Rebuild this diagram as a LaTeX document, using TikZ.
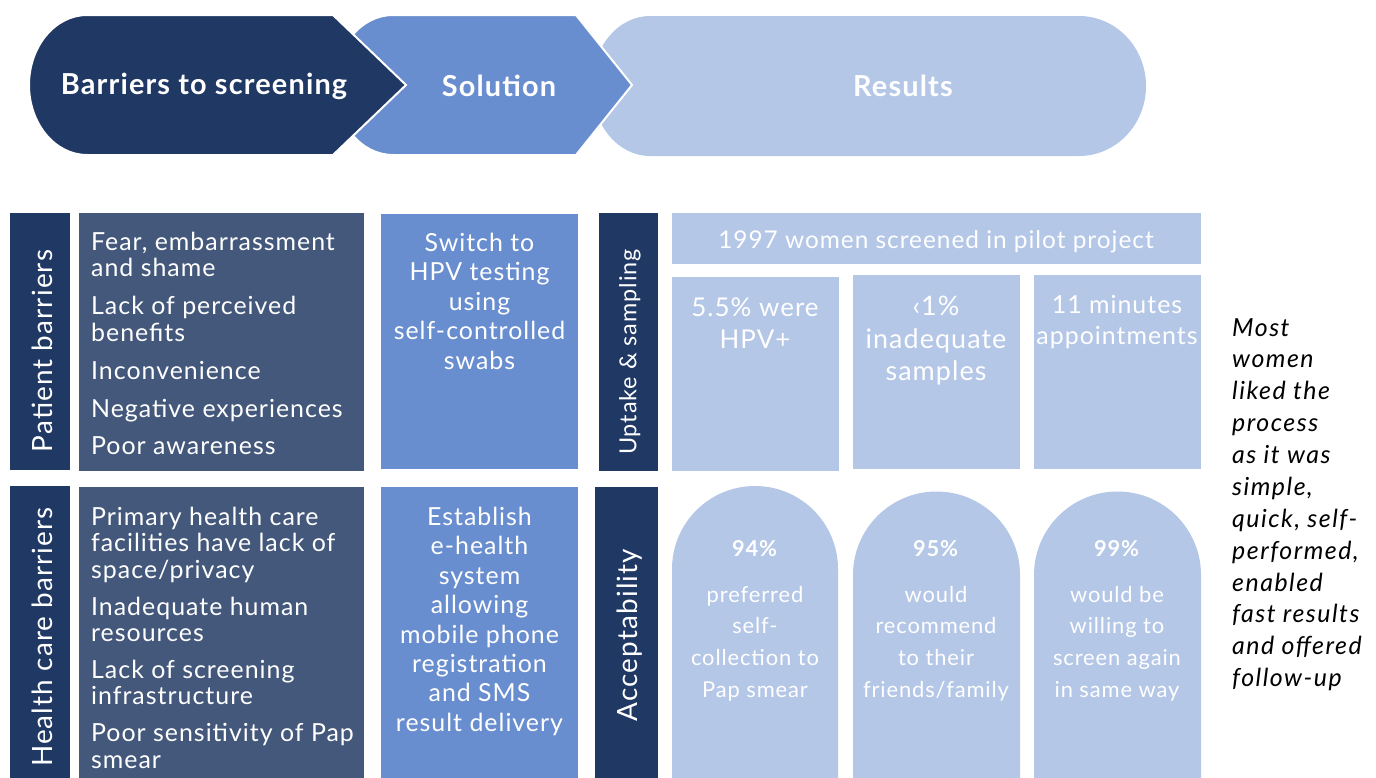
\documentclass[tikz,border=0pt]{standalone}
\usepackage{fontspec}
\setmainfont{Lato}[LetterSpace=4]
\usepackage{tikz}
\definecolor{navy}{HTML}{203864}
\definecolor{slate}{HTML}{44587C}
\definecolor{midblue}{HTML}{698ECF}
\definecolor{paleblue}{HTML}{B4C7E7}
\tikzset{
  title/.style={text=white,inner sep=0pt,font=\bfseries\fontsize{29}{32}\selectfont},
  sidelabel/.style={text=white,inner sep=0pt,rotate=90,font=\fontsize{28}{30}\selectfont},
  barrier/.style={anchor=north west,inner sep=0pt,text=white,align=left,font=\fontsize{25}{26.5}\selectfont},
  solution/.style={anchor=north,inner sep=0pt,text=white,align=center,font=\fontsize{25}{29.5}\selectfont},
  result/.style={anchor=north,inner sep=0pt,text=white,align=center,font=\fontsize{26}{32}\selectfont},
  archtext/.style={anchor=north,inner sep=0pt,text=white,align=center,font=\fontsize{22}{32}\selectfont},
  remark/.style={anchor=north west,inner sep=0pt,align=left,font=\itshape\fontsize{25}{32}\selectfont\addfontfeature{LetterSpace=6}}
}
\begin{document}
\begin{tikzpicture}
\useasboundingbox (0bp,0bp) rectangle (1376bp,-778bp);

% banner
\fill[paleblue] (650bp,-16bp) -- (1079bp,-16bp) arc[start angle=90,end angle=-90,x radius=67bp,y radius=70bp] -- (650bp,-156bp) arc[start angle=270,end angle=90,x radius=58bp,y radius=70bp] -- cycle;
\filldraw[fill=midblue,draw=white,line width=2bp] (393bp,-15bp) -- (576bp,-15bp) -- (632bp,-85bp) -- (576bp,-155bp) -- (393bp,-155bp) arc[start angle=270,end angle=90,x radius=58bp,y radius=70bp] -- cycle;
\filldraw[fill=navy,draw=white,line width=2bp] (87bp,-15bp) -- (333bp,-15bp) -- (406bp,-85bp) -- (333bp,-155bp) -- (87bp,-155bp) arc[start angle=270,end angle=90,x radius=58bp,y radius=70bp] -- cycle;
\node (B) at (204bp,-86bp)[title] {Barriers to screening};
\node (S) at (499bp,-86bp)[title] {Solution};
\node (R) at (903bp,-86bp)[title] {Results};

% patient barriers row
\fill[navy] (10bp,-213bp) rectangle (70bp,-470bp);
\fill[slate] (79bp,-213bp) rectangle (364bp,-471bp);
\fill[midblue] (381bp,-214bp) rectangle (578bp,-469bp);
\node (PB) at (42bp,-351bp)[sidelabel] {Patient barriers};
\node (PL) at (91bp,-232bp)[barrier] {Fear, embarrassment\\and shame\\[11.5bp]Lack of perceived\\benefits\\[11.5bp]Inconvenience\\[11.5bp]Negative experiences\\[11.5bp]Poor awareness};
\node (PS) at (479.5bp,-233bp)[solution] {Switch to\\HPV testing\\using\\self-controlled\\swabs};

% health care barriers row
\fill[navy] (10bp,-486bp) rectangle (70bp,-778bp);
\fill[slate] (79bp,-487bp) rectangle (364bp,-778bp);
\fill[midblue] (381bp,-487bp) rectangle (578bp,-778bp);
\node (HB) at (42bp,-637bp)[sidelabel] {Health care barriers};
\node (HL) at (91bp,-507bp)[barrier] {Primary health care\\facilities have lack of\\space/privacy\\[10.5bp]Inadequate human\\resources\\[10.5bp]Lack of screening\\infrastructure\\[10.5bp]Poor sensitivity of Pap\\smear};
\node (HS) at (479.5bp,-507bp)[solution] {Establish\\e-health\\system\\allowing\\mobile phone\\registration\\and SMS\\result delivery};

% uptake and sampling
\fill[navy] (599bp,-213bp) rectangle (658bp,-471bp);
\fill[paleblue] (672bp,-213bp) rectangle (1201bp,-264bp);
\fill[paleblue] (672bp,-277bp) rectangle (839bp,-471bp);
\fill[paleblue] (853bp,-275bp) rectangle (1020bp,-469bp);
\fill[paleblue] (1034bp,-275bp) rectangle (1201bp,-469bp);
\node (UP) at (630bp,-352bp)[sidelabel,font=\fontsize{23.5}{26}\selectfont] {Uptake \& sampling};
\node (W) at (936bp,-242bp)[text=white,font=\fontsize{24.5}{26}\selectfont] {1997 women screened in pilot project};
\node (P1) at (755bp,-298bp)[result] {5.5\% were\\HPV+};
\node (P2) at (936bp,-296bp)[result,font=\fontsize{27}{32.5}\selectfont] {‹1\%\\inadequate\\samples};
\node (P3) at (1117bp,-295bp)[result,font=\fontsize{25}{31}\selectfont] {11 minutes\\appointments};

% acceptability
\fill[navy] (595bp,-487bp) rectangle (658bp,-778bp);
\fill[paleblue] (672bp,-778bp) -- (672bp,-569bp) arc[start angle=180,end angle=0,radius=83bp] -- (838bp,-778bp) -- cycle;
\fill[paleblue] (853bp,-778bp) -- (853bp,-575bp) arc[start angle=180,end angle=0,radius=83.5bp] -- (1020bp,-778bp) -- cycle;
\fill[paleblue] (1034bp,-778bp) -- (1034bp,-575bp) arc[start angle=180,end angle=0,radius=83.5bp] -- (1201bp,-778bp) -- cycle;
\node (AC) at (630bp,-635bp)[sidelabel] {Acceptability};
\node (A1) at (755bp,-540bp)[archtext] {\textbf{94\%}\\[14bp]preferred\\self-\\collection to\\Pap smear};
\node (A2) at (936bp,-540bp)[archtext] {\textbf{95\%}\\[14bp]would\\recommend\\to their\\friends/family};
\node (A3) at (1117bp,-540bp)[archtext] {\textbf{99\%}\\[14bp]would be\\willing to\\screen again\\in same way};

% side remark
\node (note) at (1232bp,-318bp)[remark] {Most\\women\\liked the\\process\\as it was\\simple,\\quick, self-\\performed,\\enabled\\fast results\\and offered\\follow-up};
\end{tikzpicture}
\end{document}
